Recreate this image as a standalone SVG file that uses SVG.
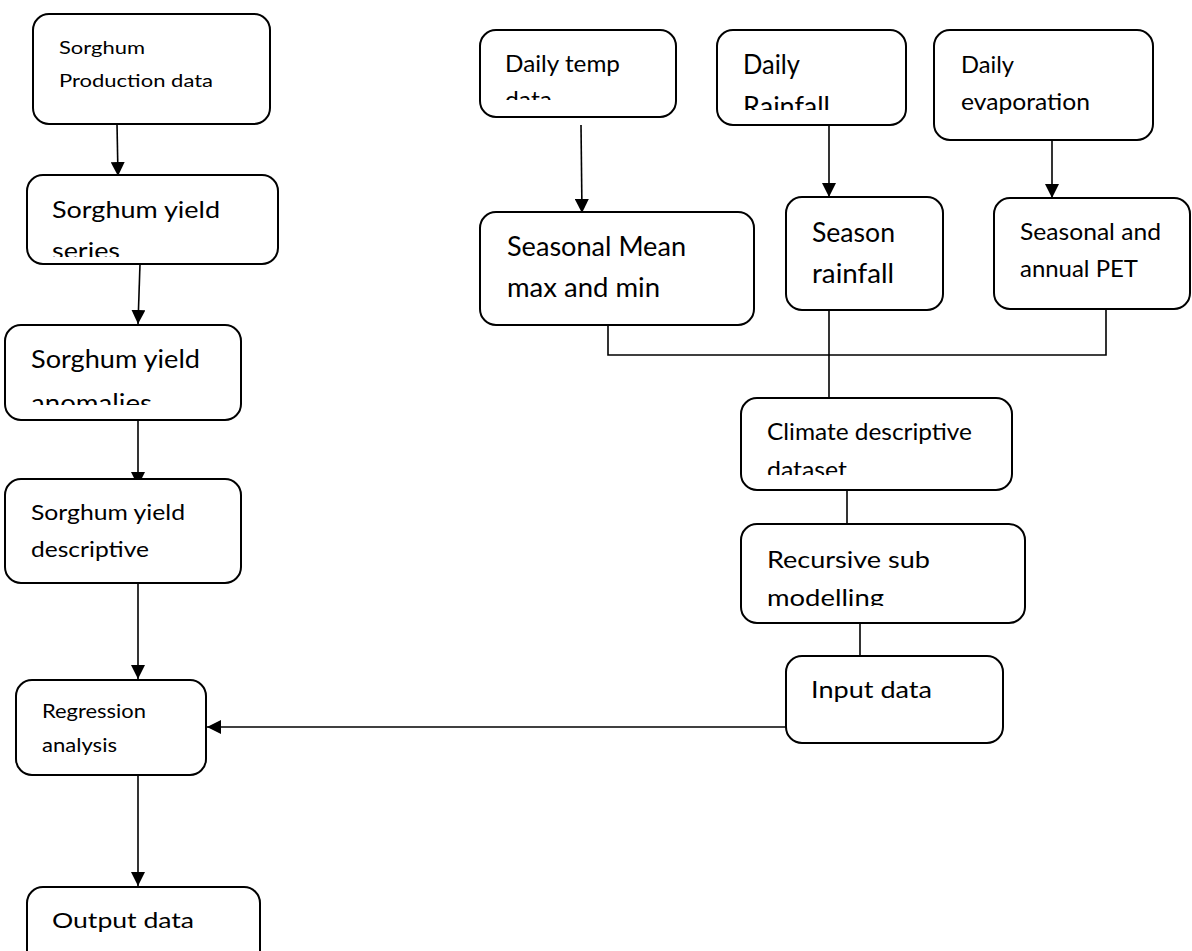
<svg xmlns="http://www.w3.org/2000/svg" width="1192" height="951" viewBox="0 0 1192 951">
<style>
.box{fill:#fff;stroke:#000;stroke-width:2}
.t{font-family:Lato,"Open Sans","Liberation Sans",sans-serif;fill:#000}
.c{fill:none;stroke:#000;stroke-width:1.6}
</style>
<defs>
<marker id="ah" viewBox="0 0 10 10" refX="10" refY="5" markerWidth="14" markerHeight="14" markerUnits="userSpaceOnUse" orient="auto">
<path d="M0,0 L10,5 L0,10 z" fill="#000"/>
</marker>
<clipPath id="k2"><rect x="27" y="175" width="251" height="82"/></clipPath>
<clipPath id="k3"><rect x="5" y="325" width="236" height="80"/></clipPath>
<clipPath id="k7"><rect x="480" y="30" width="196" height="70"/></clipPath>
<clipPath id="k8"><rect x="717" y="30" width="189" height="80"/></clipPath>
<clipPath id="k13"><rect x="741" y="398" width="271" height="77"/></clipPath>
<clipPath id="k14"><rect x="741" y="524" width="284" height="82"/></clipPath>
</defs>
<g id="connectors">
<line class="c" x1="117" y1="124" x2="118" y2="176" marker-end="url(#ah)"/>
<line class="c" x1="140" y1="264" x2="138" y2="324" marker-end="url(#ah)"/>
<line class="c" x1="138" y1="417" x2="138" y2="486" marker-end="url(#ah)"/>
<line class="c" x1="138" y1="583" x2="138" y2="679" marker-end="url(#ah)"/>
<line class="c" x1="138" y1="775" x2="138" y2="886" marker-end="url(#ah)"/>
<line class="c" x1="786" y1="727" x2="207" y2="727" marker-end="url(#ah)"/>
<line class="c" x1="581" y1="125" x2="582" y2="213" marker-end="url(#ah)"/>
<line class="c" x1="829" y1="125" x2="829" y2="197" marker-end="url(#ah)"/>
<line class="c" x1="1052" y1="140" x2="1052" y2="198" marker-end="url(#ah)"/>
<polyline class="c" points="608,325 608,355 1106,355 1106,309"/>
<line class="c" x1="829" y1="310" x2="829" y2="398"/>
<line class="c" x1="847" y1="490" x2="847" y2="524"/>
<line class="c" x1="860" y1="623" x2="860" y2="656"/>
</g>
<g id="n1">
<rect class="box" x="33" y="14" width="237" height="110" rx="16"/>
<text class="t" font-size="16.3" x="59" y="54" textLength="86" lengthAdjust="spacingAndGlyphs">Sorghum</text>
<text class="t" font-size="16.3" x="59" y="87" textLength="154" lengthAdjust="spacingAndGlyphs">Production data</text>
</g>
<g id="n2">
<rect class="box" x="27" y="175" width="251" height="89" rx="16"/>
<g clip-path="url(#k2)">
<text class="t" font-size="24" x="52" y="218" textLength="168" lengthAdjust="spacingAndGlyphs">Sorghum yield</text>
<text class="t" font-size="24" x="52" y="259" textLength="68" lengthAdjust="spacingAndGlyphs">series</text>
</g>
</g>
<g id="n3">
<rect class="box" x="5" y="325" width="236" height="95" rx="16"/>
<g clip-path="url(#k3)">
<text class="t" font-size="25" x="31" y="368" textLength="169" lengthAdjust="spacingAndGlyphs">Sorghum yield</text>
<text class="t" font-size="25" x="31" y="412" textLength="121" lengthAdjust="spacingAndGlyphs">anomalies</text>
</g>
</g>
<g id="n4">
<rect class="box" x="5" y="479" width="236" height="104" rx="16"/>
<text class="t" font-size="21" x="31" y="520" textLength="154" lengthAdjust="spacingAndGlyphs">Sorghum yield</text>
<text class="t" font-size="21" x="31" y="557" textLength="118" lengthAdjust="spacingAndGlyphs">descriptive</text>
</g>
<g id="n5">
<rect class="box" x="16" y="680" width="190" height="95" rx="16"/>
<text class="t" font-size="19.5" x="42" y="718" textLength="104" lengthAdjust="spacingAndGlyphs">Regression</text>
<text class="t" font-size="19.5" x="42" y="752" textLength="75" lengthAdjust="spacingAndGlyphs">analysis</text>
</g>
<g id="n6">
<rect class="box" x="27" y="887" width="233" height="80" rx="16"/>
<text class="t" font-size="21.5" x="52" y="928" textLength="142" lengthAdjust="spacingAndGlyphs">Output data</text>
</g>
<g id="n7">
<rect class="box" x="480" y="30" width="196" height="87" rx="16"/>
<g clip-path="url(#k7)">
<text class="t" font-size="23" x="505" y="72" textLength="115" lengthAdjust="spacingAndGlyphs">Daily temp</text>
<text class="t" font-size="23" x="505" y="108" textLength="47" lengthAdjust="spacingAndGlyphs">data</text>
</g>
</g>
<g id="n8">
<rect class="box" x="717" y="30" width="189" height="95" rx="16"/>
<g clip-path="url(#k8)">
<text class="t" font-size="26" x="743" y="74" textLength="57" lengthAdjust="spacingAndGlyphs">Daily</text>
<text class="t" font-size="26" x="743" y="116" textLength="87" lengthAdjust="spacingAndGlyphs">Rainfall</text>
</g>
</g>
<g id="n9">
<rect class="box" x="934" y="30" width="219" height="110" rx="16"/>
<text class="t" font-size="23" x="961" y="73" textLength="53" lengthAdjust="spacingAndGlyphs">Daily</text>
<text class="t" font-size="23" x="961" y="110" textLength="129" lengthAdjust="spacingAndGlyphs">evaporation</text>
</g>
<g id="n10">
<rect class="box" x="480" y="212" width="274" height="113" rx="16"/>
<text class="t" font-size="26" x="507" y="256" textLength="179" lengthAdjust="spacingAndGlyphs">Seasonal Mean</text>
<text class="t" font-size="26" x="507" y="297" textLength="153" lengthAdjust="spacingAndGlyphs">max and min</text>
</g>
<g id="n11">
<rect class="box" x="786" y="197" width="157" height="113" rx="16"/>
<text class="t" font-size="26" x="812" y="242" textLength="83" lengthAdjust="spacingAndGlyphs">Season</text>
<text class="t" font-size="26" x="812" y="283" textLength="82" lengthAdjust="spacingAndGlyphs">rainfall</text>
</g>
<g id="n12">
<rect class="box" x="994" y="198" width="196" height="111" rx="16"/>
<text class="t" font-size="22.3" x="1020" y="240" textLength="141" lengthAdjust="spacingAndGlyphs">Seasonal and</text>
<text class="t" font-size="22.3" x="1020" y="277" textLength="118" lengthAdjust="spacingAndGlyphs">annual PET</text>
</g>
<g id="n13">
<rect class="box" x="741" y="398" width="271" height="92" rx="16"/>
<g clip-path="url(#k13)">
<text class="t" font-size="23" x="767" y="440" textLength="205" lengthAdjust="spacingAndGlyphs">Climate descriptive</text>
<text class="t" font-size="23" x="767" y="478" textLength="80" lengthAdjust="spacingAndGlyphs">dataset</text>
</g>
</g>
<g id="n14">
<rect class="box" x="741" y="524" width="284" height="99" rx="16"/>
<g clip-path="url(#k14)">
<text class="t" font-size="23" x="767" y="568" textLength="163" lengthAdjust="spacingAndGlyphs">Recursive sub</text>
<text class="t" font-size="23" x="767" y="606" textLength="117" lengthAdjust="spacingAndGlyphs">modelling</text>
</g>
</g>
<g id="n15">
<rect class="box" x="786" y="656" width="217" height="87" rx="16"/>
<text class="t" font-size="23" x="811" y="698" textLength="121" lengthAdjust="spacingAndGlyphs">Input data</text>
</g>
</svg>
